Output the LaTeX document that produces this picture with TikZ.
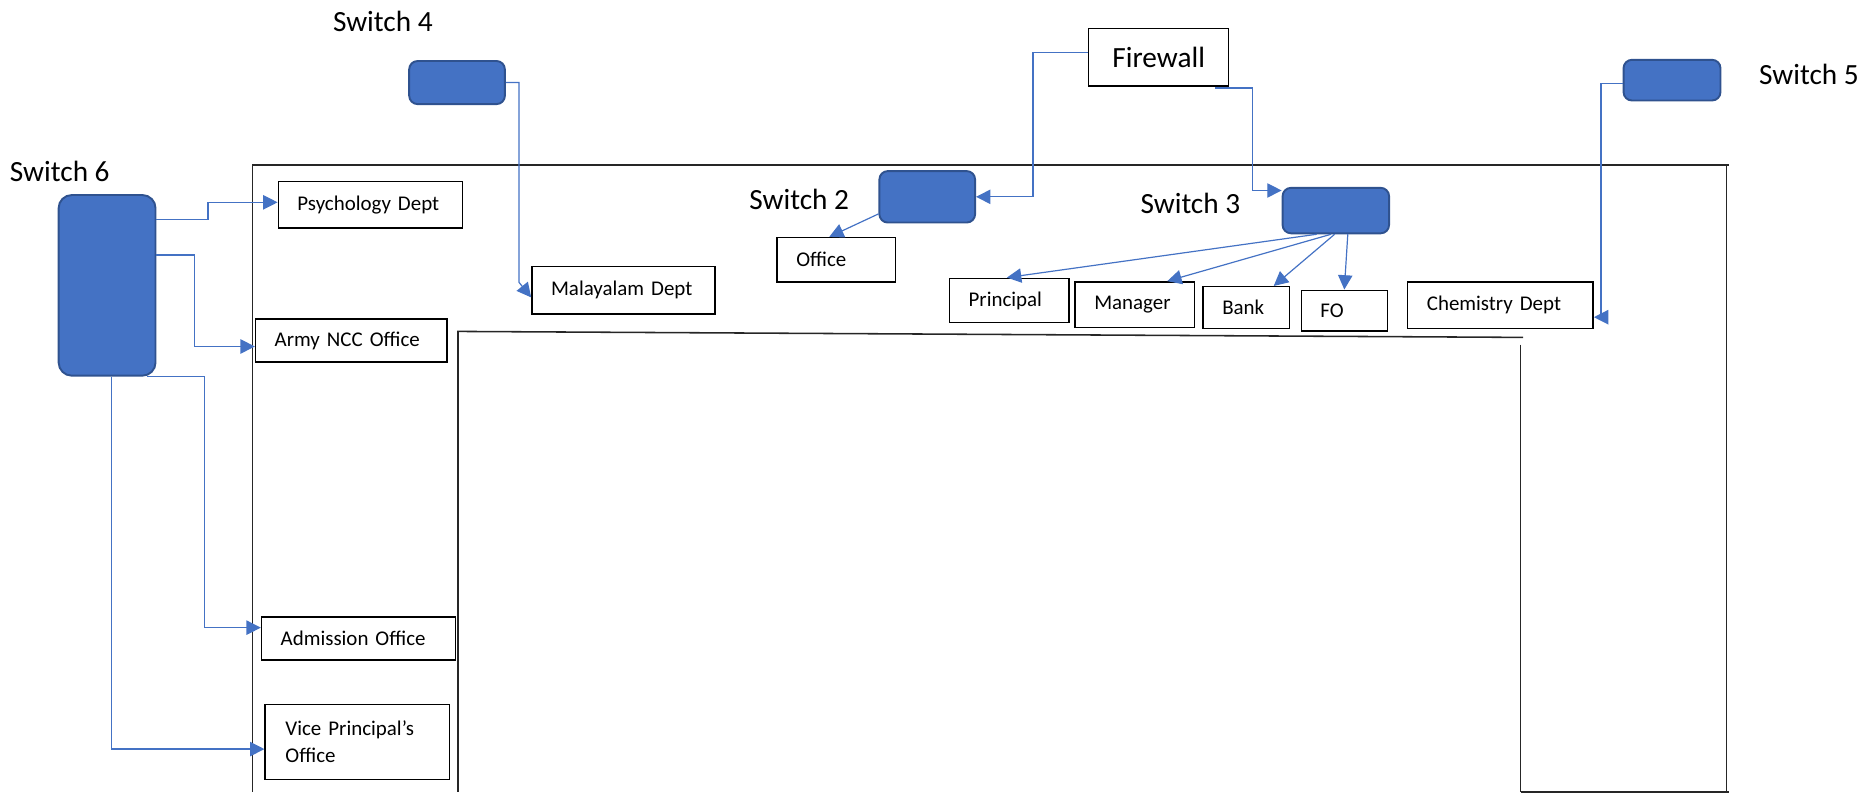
\documentclass[tikz,border=0pt]{standalone}
\usepackage{fontspec}
\setmainfont{Carlito}
\usetikzlibrary{arrows.meta}
\definecolor{swfill}{HTML}{4472C4}
\definecolor{swdraw}{HTML}{2F528F}
\definecolor{conncol}{HTML}{4472C4}
\tikzset{
  bigtext/.style={font=\fontsize{24.5}{29}\selectfont, inner sep=0pt},
  lbox/.style={draw=black, line width=1.2pt, inner xsep=16pt, inner ysep=0pt, align=left,
    anchor=north west, font=\fontsize{17.5}{23}\selectfont},
  switchbox/.style={draw=swdraw, fill=swfill, line width=1.6pt, rounded corners=7pt, inner sep=0pt},
  conn/.style={draw=conncol, line width=1pt, -{Triangle[length=12pt,width=12pt]}},
  frame/.style={draw=black!85, line width=1.3pt},
}
\begin{document}
\begin{tikzpicture}[x=1pt,y=-1pt]
\useasboundingbox (0,0) rectangle (1568,664);

% frame lines
\draw[frame] (211,138) -- (1445,138);
\draw[frame] (211,138) -- (211,662);
\draw[frame] (1443,138) -- (1443,662);
\draw[frame] (382,277) -- (1273,282);
\draw[frame] (383,277) -- (383,662);
\draw[frame] (1271,288) -- (1271,662);
\draw[frame] (1271,662) -- (1445,662);

% labels
\node[bigtext] (l4) at (320,18) {Switch 4};
\node[bigtext] (l5) at (1512,62) {Switch 5};
\node[bigtext] (l6) at (50,143) {Switch 6};
\node[bigtext] (l2) at (668,167) {Switch 2};
\node[bigtext] (l3) at (995,170) {Switch 3};

% firewall
\node[draw=black, line width=1.2pt, bigtext, minimum width=117pt, minimum height=48pt] (fw) at (968.5,48) {Firewall};

% switches
\node[switchbox, minimum width=80pt, minimum height=36pt] (sw4) at (382,69) {};
\node[switchbox, minimum width=80pt, minimum height=43pt] (sw2) at (775,164.5) {};
\node[switchbox, minimum width=89pt, minimum height=38pt] (sw3) at (1116.5,176) {};
\node[switchbox, minimum width=81pt, minimum height=34pt] (sw5) at (1397.5,67) {};
\node[switchbox, rounded corners=11pt, minimum width=81pt, minimum height=151pt] (sw6) at (89.5,238.5) {};

% boxes
\node[lbox, text width=122pt, minimum height=39pt] (psy) at (232,151) {Psychology Dept};
\node[lbox, text width=121pt, minimum height=40pt] (mal) at (444,222) {Malayalam Dept};
\node[lbox, text width=128pt, minimum height=36pt] (army) at (213,266) {Army NCC Office};
\node[lbox, text width=130pt, minimum height=36pt] (adm) at (218,515) {Admission Office};
\node[lbox, text width=120pt, minimum height=63pt, inner xsep=17pt] (vp) at (221,588) {Vice Principal’s\\Office};
\node[lbox, text width=67pt, minimum height=37pt] (off) at (649,198) {Office};
\node[lbox, text width=68pt, minimum height=37pt] (prin) at (793,232) {Principal};
\node[lbox, text width=68pt, minimum height=38pt] (man) at (898,235) {Manager};
\node[lbox, text width=40pt, minimum height=35pt] (bank) at (1005,239) {Bank};
\node[lbox, text width=40pt, minimum height=34pt] (fo) at (1087,242) {FO};
\node[lbox, text width=123pt, minimum height=39pt] (chem) at (1176,235) {Chemistry Dept};

% connectors
\draw[conn] (sw4.east) -- ++(11,0) -- ++(0,167) -- ([yshift=-6pt]mal.west);
\draw[conn] ([yshift=4pt]fw.west) -- ++(-46,0) |- (sw2.east);
\draw[conn] ([xshift=-12pt,yshift=-1pt]fw.south east) -- ++(31,0) |- ([yshift=-3pt]sw3.north west);
\draw[conn] ([yshift=8pt]sw2.south west) -- ([xshift=-6pt]off.north);
\draw[conn] ([xshift=-16pt]sw3.south) -- ([xshift=-2pt]prin.north);
\draw[conn] ([xshift=-4pt]sw3.south) -- ([xshift=27pt]man.north);
\draw[conn] ([xshift=-1pt]sw3.south) -- ([xshift=23pt]bank.north);
\draw[conn] ([xshift=10pt]sw3.south) -- (fo.north);
\draw[conn] ([yshift=-3pt]sw5.west) -- ++(-18,0) |- ([yshift=-10pt]chem.east);
\draw[conn] ([yshift=-21pt]sw6.north east) -- ++(43,0) |- ([yshift=2pt]psy.west);
\draw[conn] ([yshift=-51pt]sw6.north east) -- ++(32,0) |- ([yshift=-5pt]army.west);
\draw[conn] ([xshift=-8pt]sw6.south east) -- ++(48,0) |- ([yshift=9pt]adm.west);
\draw[conn] ([xshift=3.5pt]sw6.south) |- ([yshift=-6pt]vp.west);
\end{tikzpicture}
\end{document}
